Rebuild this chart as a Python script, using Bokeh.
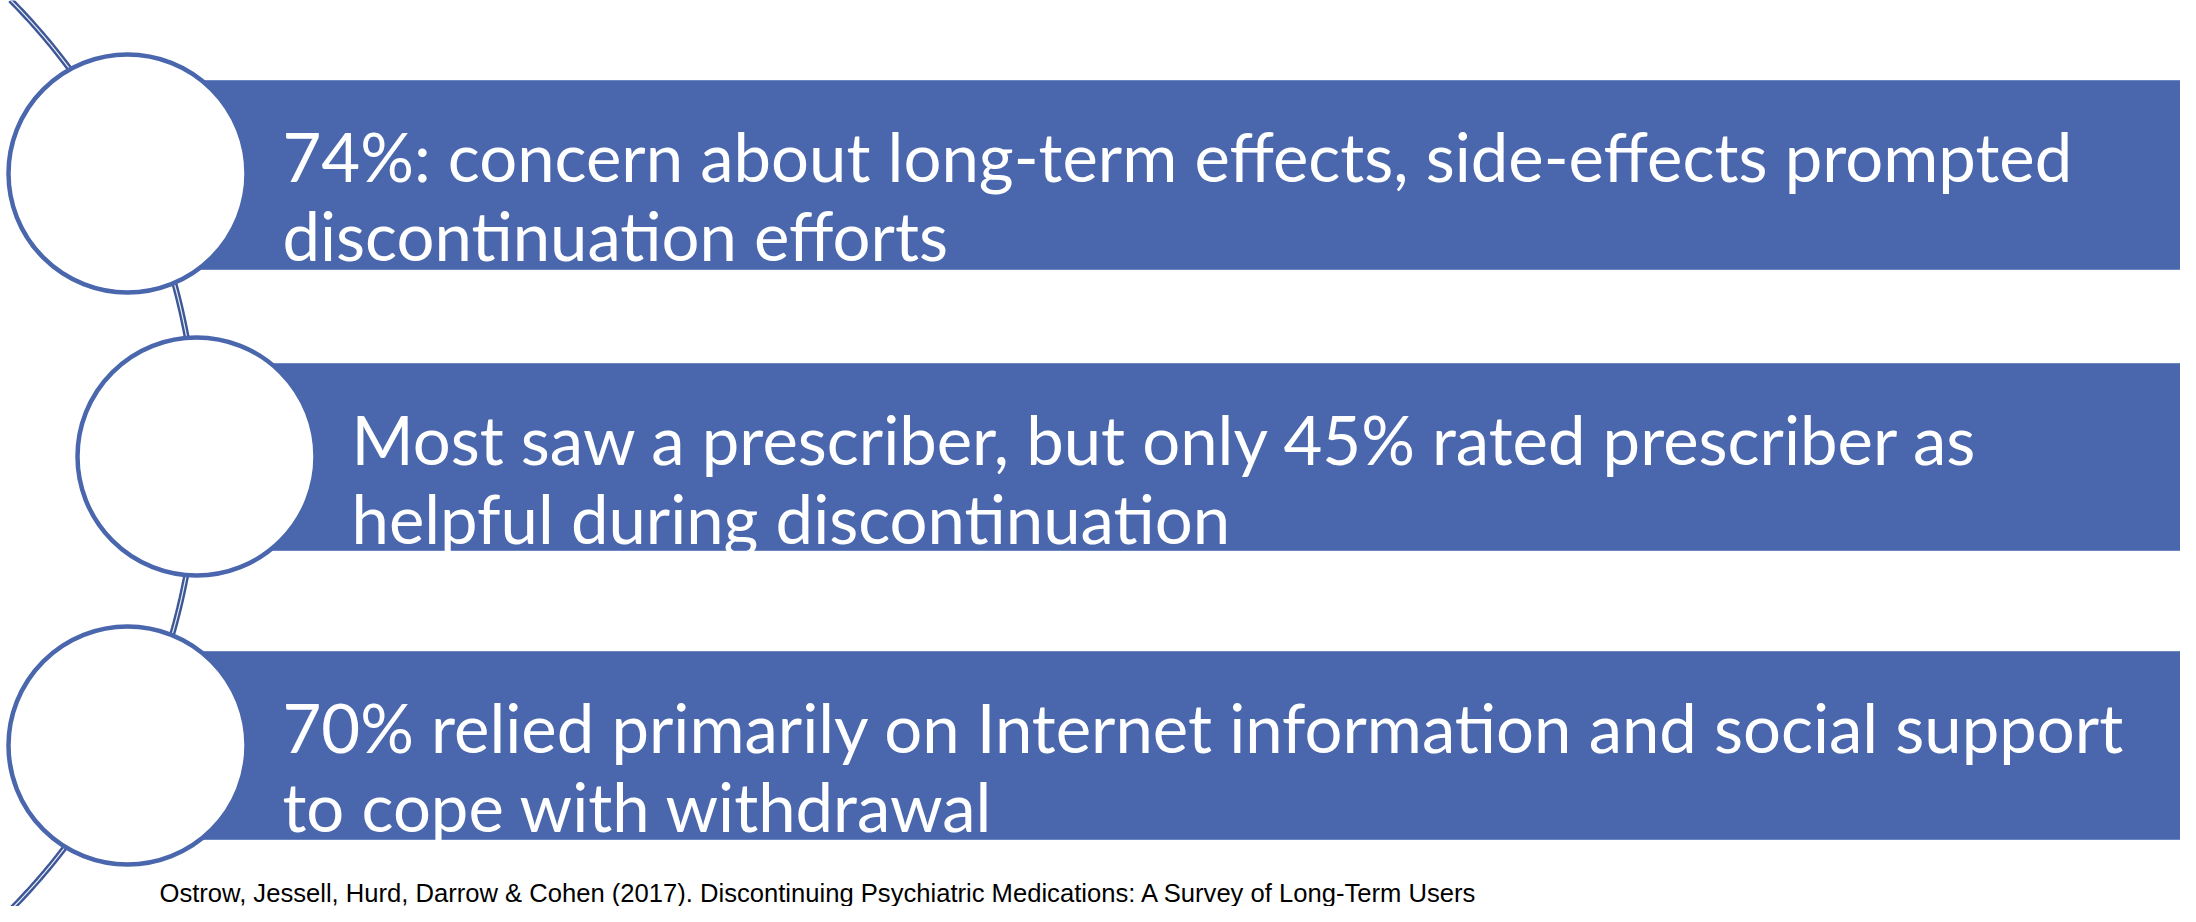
import numpy as np
from bokeh.plotting import figure
from bokeh.models import Range1d, ColumnDataSource
from bokeh.core.properties import value
from bokeh.embed import file_html
from bokeh.resources import INLINE

# ---- content ----
line1 = [
    "74%: concern about long-term effects, side-effects prompted",
    "Most saw a prescriber, but only 45% rated prescriber as",
    "70% relied primarily on Internet information and social support",
]
line2 = [
    "discontinuation efforts",
    "helpful during discontinuation",
    "to cope with withdrawal",
]
citation = "Ostrow, Jessell, Hurd, Darrow & Cohen (2017). Discontinuing Psychiatric Medications: A Survey of Long-Term Users"

# ---- layout (pixel space, y downward) ----
W, H = 2180, 906
OFF = 8
circle_cx = [135, 204, 135]
circle_cy = [181, 464, 753]
bar_top = [88, 371, 659]
bar_bottom = [277, 558, 847]
bar_right = 2192
R_CIRCLE = 119
TEXT_DX = 155

BLUE = "#4A67AD"
ARC = "#3D5797"

p = figure(width=W, height=H, output_backend="svg", toolbar_location=None,
           x_range=Range1d(0, W), y_range=Range1d(H, 0), min_border=0,
           background_fill_color="white", border_fill_color="white")
p.axis.visible = False
p.grid.visible = False
p.outline_line_color = None

# arc (large circle centred off to the left)
acx, acy, AR = -442 - OFF, 462.5 - OFF, 647
th = np.linspace(-0.78, 0.78, 200)
ax = acx + AR * np.cos(th)
ay = acy + AR * np.sin(th)
p.line(ax, ay, line_color=ARC, line_width=6)
p.line(ax, ay, line_color="#E8ECF5", line_width=1.2)

# bars
bars = ColumnDataSource(dict(
    left=[c - OFF for c in circle_cx],
    right=[bar_right - OFF] * 3,
    top=[t - OFF for t in bar_top],
    bottom=[b - OFF for b in bar_bottom],
))
p.quad(left="left", right="right", top="top", bottom="bottom", source=bars,
       fill_color=BLUE, line_color="#6C86C2", line_width=1)

# circles
circ = ColumnDataSource(dict(x=[c - OFF for c in circle_cx], y=[c - OFF for c in circle_cy]))
p.circle(x="x", y="y", radius=R_CIRCLE, source=circ, fill_color="white",
         line_color=BLUE, line_width=4.5)

# texts
tx = [c + TEXT_DX - OFF for c in circle_cx]
txt = ColumnDataSource(dict(
    x=tx + tx,
    y=[t + 75 - OFF for t in bar_top] + [t + 154 - OFF for t in bar_top],
    text=line1 + line2,
))
p.text(x="x", y="y", text="text", source=txt, text_font=value("Lato"),
       text_font_size="67px", text_color="white", text_baseline="alphabetic",
       text_align="left")

# citation
p.text(x=[167 - OFF], y=[892], text=[citation],
       text_font=value("Liberation Sans"), text_font_size="25.6px",
       text_color="black", text_baseline="alphabetic", text_align="left")

open("out.html", "w").write(file_html(p, INLINE))
